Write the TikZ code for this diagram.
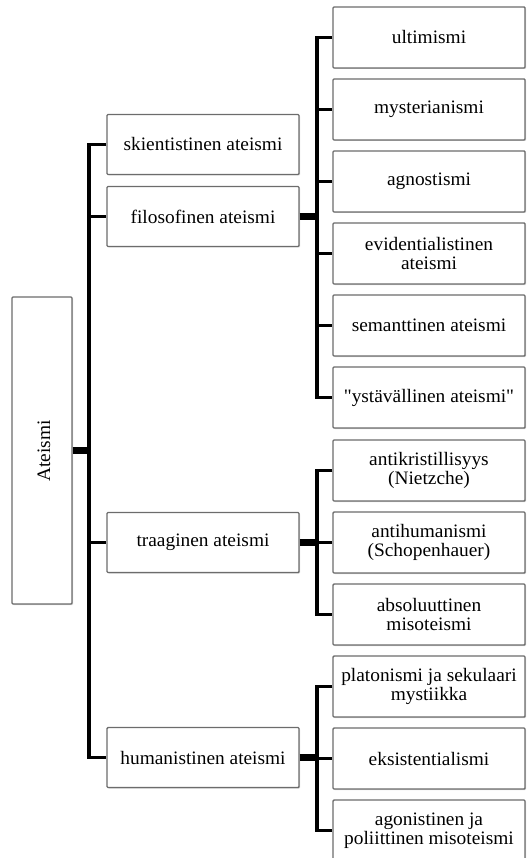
\documentclass[tikz,border=0pt]{standalone}
\usepackage{fontspec}
\setmainfont{Liberation Serif}[FakeStretch=1.02]
\newfontfamily\qfont{Liberation Serif}[FakeStretch=1.02, Ligatures=ResetAll]
\usetikzlibrary{shadows}
\begin{document}
\begin{tikzpicture}[x=1pt,y=-1pt,
  box/.style={draw=gray!85!black, line width=1.4pt, fill=white, rounded corners=1pt,
    inner sep=0pt, align=center, font=\fontsize{19}{18.5}\selectfont,
    drop shadow={shadow xshift=1pt, shadow yshift=-1pt, opacity=0.35, fill=gray}},
  rootbox/.style={box, minimum width=60pt, minimum height=307pt},
  midbox/.style={box, minimum width=192pt, minimum height=60pt},
  leafbox/.style={box, minimum width=192pt, minimum height=61pt},
  trunk/.style={line width=3.5pt, line join=miter},
  stub/.style={line width=7.5pt}]
\useasboundingbox (0,0) rectangle (527,858);
% root
\node[rootbox] (root) at (42,450.5) {};
\node[rotate=90, font=\fontsize{19}{18.5}\selectfont] (roottxt) at (44,451) {Ateismi};
% middle column
\node[midbox] (ski) at (203,144.5) {skientistinen ateismi};
\node[midbox] (fil) at (203,216.5) {filosofinen ateismi};
\node[midbox] (tra) at (203,542.5) {traaginen ateismi};
\node[midbox] (hum) at (203,757.5) {humanistinen ateismi};
% leaves
\node[leafbox] (l1) at (429,37.5) {ultimismi};
\node[leafbox] (l2) at (429,109.5) {mysterianismi};
\node[leafbox] (l3) at (429,181.5) {agnostismi};
\node[leafbox] (l4) at (429,253.5) {evidentialistinen\\ateismi};
\node[leafbox] (l5) at (429,325.5) {semanttinen ateismi};
\node[leafbox] (l6) at (429,397.5) {{\qfont"}ystävällinen ateismi{\qfont"}};
\node[leafbox] (l7) at (429,470.5) {antikristillisyys\\(Nietzche)};
\node[leafbox] (l8) at (429,542.5) {antihumanismi\\(Schopenhauer)};
\node[leafbox] (l9) at (429,614.5) {absoluuttinen\\misoteismi};
\node[leafbox] (l10) at (429,686.5) {platonismi ja sekulaari\\mystiikka};
\node[leafbox] (l11) at (429,758.5) {eksistentialismi};
\node[leafbox] (l12) at (429,830.5) {agonistinen ja\\poliittinen misoteismi};
% trunk positions
\coordinate (t0) at (89,0);
\coordinate (t1) at (317,0);
% root connectors
\draw[stub] (root.east) -- (root.east -| t0);
\draw[trunk] (ski.west) -- (ski.west -| t0) -- (hum.west -| t0) -- (hum.west);
\draw[trunk] (fil.west -| t0) -- (fil.west);
\draw[trunk] (tra.west -| t0) -- (tra.west);
% filosofinen
\draw[stub] (fil.east) -- (fil.east -| t1);
\draw[trunk] (l1.west) -- (l1.west -| t1) -- (l6.west -| t1) -- (l6.west);
\foreach \n in {l2,l3,l4,l5} \draw[trunk] (\n.west -| t1) -- (\n.west);
% traaginen
\draw[stub] (tra.east) -- (tra.east -| t1);
\draw[trunk] (l7.west) -- (l7.west -| t1) -- (l9.west -| t1) -- (l9.west);
\draw[trunk] (l8.west -| t1) -- (l8.west);
% humanistinen
\draw[stub] (hum.east) -- (hum.east -| t1);
\draw[trunk] (l10.west) -- (l10.west -| t1) -- (l12.west -| t1) -- (l12.west);
\draw[trunk] (l11.west -| t1) -- (l11.west);
\end{tikzpicture}
\end{document}
